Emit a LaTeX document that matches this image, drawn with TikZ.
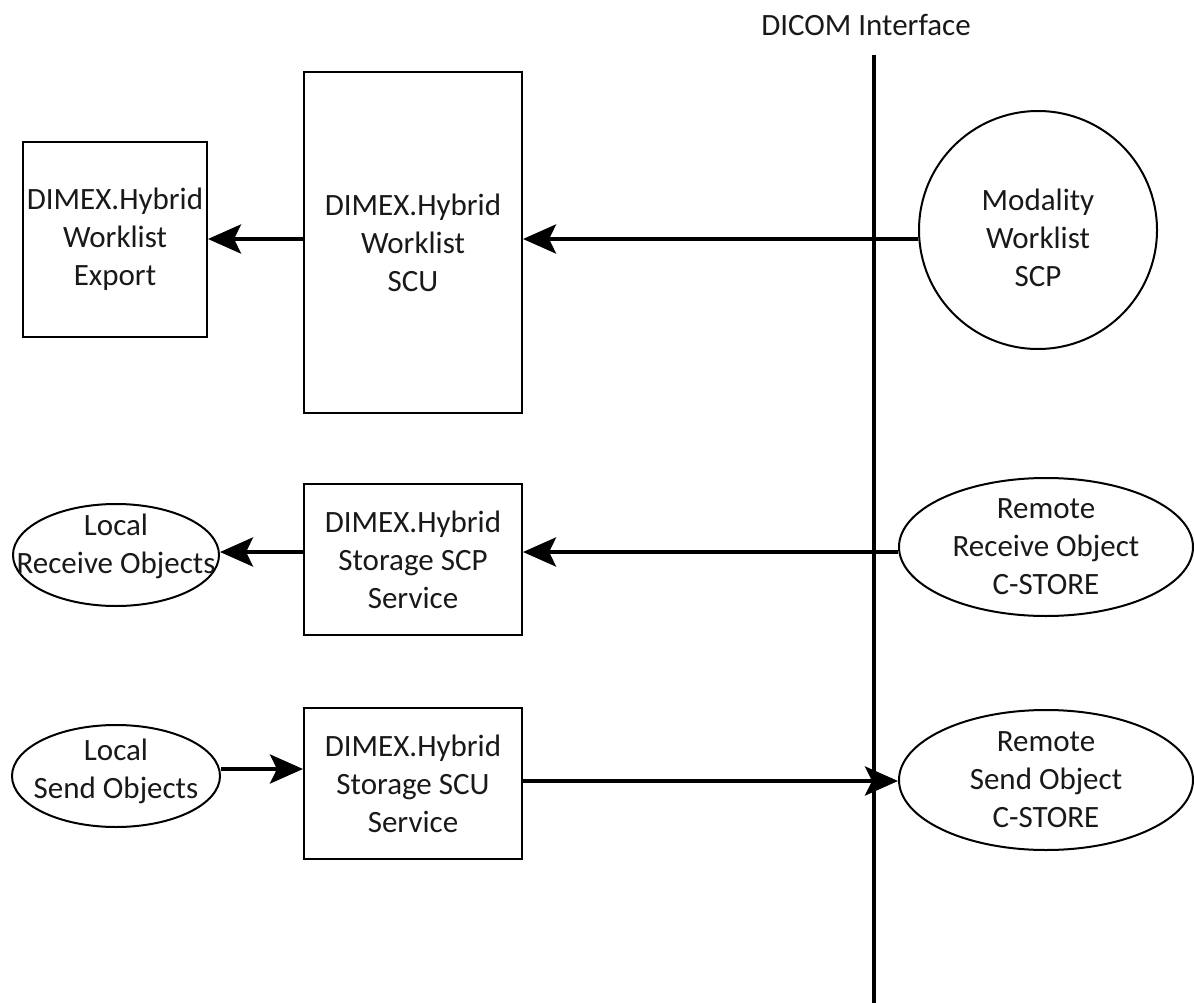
\documentclass[tikz,border=0pt]{standalone}
\usepackage{fontspec}
\setmainfont{Carlito}
\usetikzlibrary{shapes.geometric,arrows.meta}
\begin{document}
\begin{tikzpicture}[x=1pt,y=-1pt,
  every node/.style={font=\fontsize{31}{38}\selectfont, text=black!90, align=center, inner sep=0pt},
  boxn/.style={draw=black, line width=2pt, rectangle, minimum width=218pt},
  elln/.style={draw=black, line width=2pt, ellipse},
  txtn/.style={inner sep=0pt, align=center},
  arr/.style={line width=4.5pt, -{Stealth[length=33pt,width=29pt,inset=7pt]}},
  bus/.style={line width=4.5pt}]
\useasboundingbox (0,0) rectangle (1194,1003);
% DICOM interface
\node (dicom) at (866,25) {DICOM Interface};
\coordinate (bustop) at (874,55);
\coordinate (busbot) at (874,1003);
\draw[bus] (bustop) -- (busbot);
% rows
\coordinate (row1) at (0,239);
\coordinate (row2) at (0,552);
\coordinate (row3a) at (0,769);
\coordinate (row3b) at (0,781);
% row 1
\node[boxn, minimum width=184pt, minimum height=195pt] (A) at (115,239.5) {DIMEX.Hybrid\\Worklist\\Export};
\node[boxn, minimum height=341pt] (B) at (413,242.5) {DIMEX.Hybrid\\Worklist\\SCU};
\node[draw=black, line width=2pt, circle, minimum size=238pt,
  label={[txtn, name=MWt, yshift=-8pt]center:Modality\\Worklist\\SCP}] (MW) at (1038,230) {};
% row 2
\node[elln, minimum width=206pt, minimum height=102pt,
  label={[txtn, name=LRt, yshift=9pt]center:Local\\Receive Objects}] (LR) at (116,555) {};
\node[boxn, minimum height=151pt] (C) at (413,559.5) {DIMEX.Hybrid\\Storage SCP\\Service};
\node[elln, minimum width=294pt, minimum height=138pt] (RR) at (1046,547) {Remote\\Receive Object\\C-STORE};
% row 3
\node[elln, minimum width=208pt, minimum height=102pt,
  label={[txtn, name=LSt, yshift=5pt]center:Local\\Send Objects}] (LS) at (116,776) {};
\node[boxn, minimum height=151pt] (D) at (413,783.5) {DIMEX.Hybrid\\Storage SCU\\Service};
\node[elln, minimum width=294pt, minimum height=140pt] (RS) at (1046,780) {Remote\\Send Object\\C-STORE};
% connectors
\draw[arr] (MW.west |- row1) -- (B.east |- row1);
\draw[arr] (B.west |- row1) -- (A.east |- row1);
\draw[arr] (RR.west |- row2) -- (C.east |- row2);
\draw[arr] (C.west |- row2) -- (LR.east |- row2);
\draw[arr] (LS.east |- row3a) -- (D.west |- row3a);
\draw[arr] (D.east |- row3b) -- (RS.west |- row3b);
\end{tikzpicture}
\end{document}
